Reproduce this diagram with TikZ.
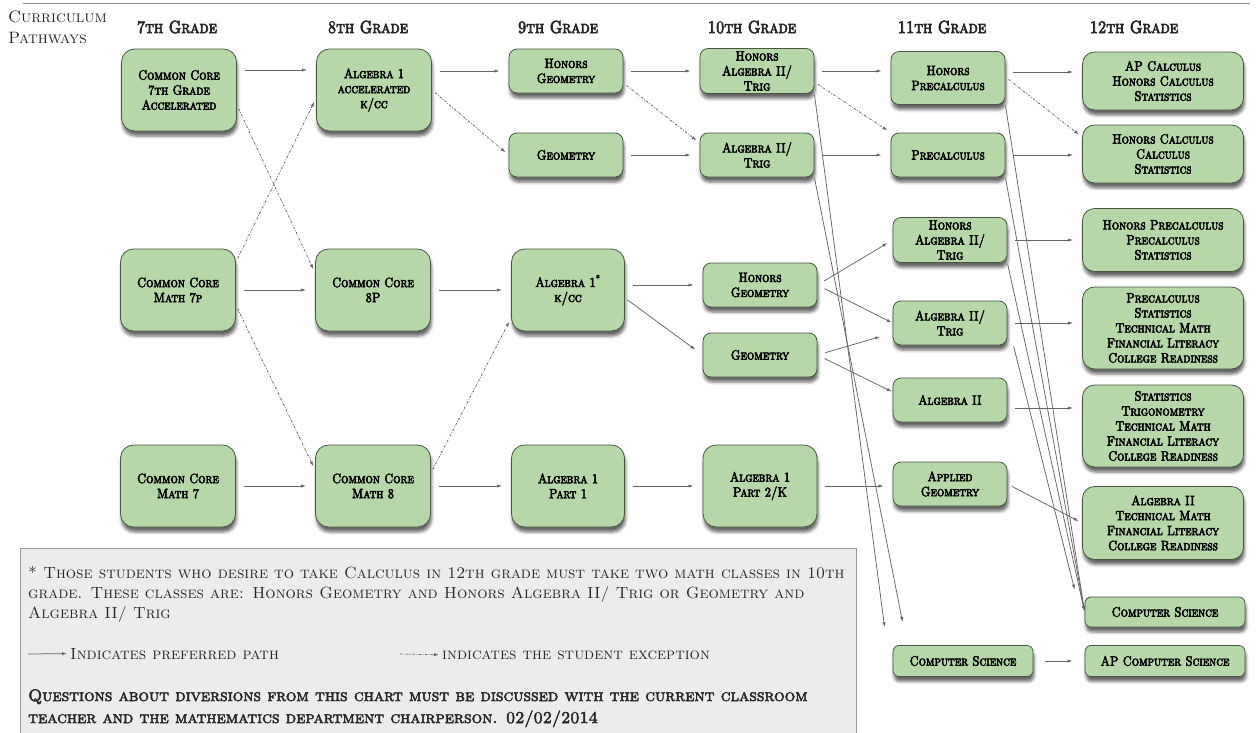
\documentclass[tikz,border=0pt]{standalone}
\usepackage{fontspec}
\usepackage{tikz}
\usepackage{xcolor}
\usetikzlibrary{arrows.meta}
\usetikzlibrary{shadows.blur}
\newfontfamily\capsplain{lmromancaps10-regular.otf}
\newfontfamily\capsbold{lmromancaps10-regular.otf}[FakeBold=4,FakeStretch=0.85]
\newfontfamily\capsheavy{lmromancaps10-regular.otf}[FakeBold=3]
\definecolor{boxgreen}{RGB}{182,215,168}
\definecolor{boxedge}{RGB}{72,86,66}
\definecolor{linegray}{RGB}{100,100,100}
\definecolor{notegray}{RGB}{236,236,236}
\tikzset{course/.style={draw=boxedge,fill=boxgreen,line width=0.8pt,rounded corners=8pt,
   align=center,inner sep=0pt,text=black,font=\capsbold\fontsize{13.5}{15}\selectfont,
   blur shadow={shadow xshift=1pt,shadow yshift=-5pt,shadow blur radius=3pt,shadow opacity=60}},
 tall/.style={course,minimum width=115pt,minimum height=82pt,rounded corners=13pt},
 short/.style={course,minimum width=114pt,minimum height=44pt},
 senior/.style={course,minimum width=161pt,rounded corners=12pt},
 cscourse/.style={course,minimum height=31pt,rounded corners=6pt},
 grade/.style={font=\capsbold\fontsize{17.5}{19}\selectfont,text=black!85,inner sep=0pt,anchor=base},
 pref/.style={draw=linegray,line width=0.75pt,-{Latex[length=5pt,width=3.2pt]},shorten <=8pt,shorten >=9pt},
 excep/.style={pref,dash pattern=on 2.5pt off 1.5pt on 0.7pt off 1.5pt,shorten <=4pt,shorten >=4pt},
 note/.style={font=\capsplain\fontsize{16.2}{19}\selectfont,anchor=base west,inner sep=0pt,text=black!85},
 }

\begin{document}
\begin{tikzpicture}[x=1pt,y=-1pt]
    \useasboundingbox (0,0) rectangle (1256,732);
    \draw[black!45,line width=0.8pt] (23,3) -- (1250,3);

    \node[note,font=\capsplain\fontsize{16.5}{18}\selectfont] (title1) at (8,22) {Curriculum};
    \node[note,font=\capsplain\fontsize{16.5}{18}\selectfont] (title2) at (8,43) {Pathways};
    \node[grade] (g7) at (177,33) {7th Grade};
    \node[grade] (g8) at (368,33) {8th Grade};
    \node[grade] (g9) at (558,33) {9th Grade};
    \node[grade] (g10) at (752,33) {10th Grade};
    \node[grade] (g11) at (942,33) {11th Grade};
    \node[grade] (g12) at (1134,33) {12th Grade};

    % 7th and 8th grade
    \node[tall] (c7acc) at (179,90) {Common Core\\7th Grade\\Accelerated};
    \node[tall] (c7p) at (178,290) {Common Core\\Math 7p};
    \node[tall] (c7) at (178,486) {Common Core\\Math 7};
    \node[tall] (a1acc) at (374,90) {Algebra 1\\accelerated\\k/cc};
    \node[tall] (cc8p) at (373,290) {Common Core\\8P};
    \node[tall] (cc8) at (373,486) {Common Core\\Math 8};

    % 9th and 10th grade
    \node[short] (hgeom9) at (566,71) {Honors\\Geometry};
    \node[short] (geom9) at (566,155) {Geometry};
    \node[tall,minimum width=113pt] (a1kcc) at (568,290) {Algebra 1\textsuperscript{*}\\k/cc};
    \node[tall,minimum width=113pt] (a1p1) at (568,486) {Algebra 1\\Part 1};
    \node[short,minimum height=45pt] (halg10) at (757,71) {Honors\\Algebra II/\\Trig};
    \node[short] (alg10) at (757,155) {Algebra II/\\Trig};
    \node[short] (hgeom10) at (760,285) {Honors\\Geometry};
    \node[short] (geom10) at (760,355) {Geometry};
    \node[tall,minimum width=114pt] (a1p2k) at (760,486) {Algebra 1\\Part 2/K};

    % 11th grade
    \node[short,minimum height=53pt] (hprec) at (948,78) {Honors\\Precalculus};
    \node[short] (prec) at (948,155) {Precalculus};
    \node[short,minimum height=45pt] (halg11) at (950,240) {Honors\\Algebra II/\\Trig};
    \node[short] (alg11) at (950,323) {Algebra II/\\Trig};
    \node[short] (alg2) at (950,400) {Algebra II};
    \node[short] (apgeom) at (950,484) {Applied\\Geometry};
    \node[cscourse,minimum width=140pt] (cs11) at (963,661) {Computer Science};

    % 12th grade
    \node[senior,minimum height=58pt] (t1) at (1163,81) {AP Calculus\\Honors Calculus\\Statistics};
    \node[senior,minimum height=58pt] (t2) at (1163,154) {Honors Calculus\\Calculus\\Statistics};
    \node[senior,minimum height=63pt] (t3) at (1163,240) {Honors Precalculus\\Precalculus\\Statistics};
    \node[senior,minimum height=82pt] (t4) at (1163,328) {Precalculus\\Statistics\\Technical Math\\Financial Literacy\\College Readiness};
    \node[senior,minimum height=82pt] (t5) at (1163,426) {Statistics\\Trigonometry\\Technical Math\\Financial Literacy\\College Readiness};
    \node[senior,minimum height=73pt] (t6) at (1163,523) {Algebra II\\Technical Math\\Financial Literacy\\College Readiness};
    \node[cscourse,minimum width=160pt,minimum height=30pt] (cs12) at (1165,612) {Computer Science};
    \node[cscourse,minimum width=160pt] (apcs) at (1165,661) {AP Computer Science};

    % preferred paths
    \draw[pref] ([yshift=20pt]c7acc.east) -- ([yshift=20pt]a1acc.west);
    \draw[pref] (a1acc.east |- hgeom9.west) -- (hgeom9.west);
    \draw[pref] (hgeom9) -- (halg10);
    \draw[pref] (geom9) -- (alg10);
    \draw[pref] (halg10.east) -- (halg10.east -| hprec.west);
    \draw[pref] (alg10) -- (prec);
    \draw[pref] ([yshift=6pt]hprec.east) -- ([yshift=6pt]hprec.east -| t1.west);
    \draw[pref] (prec.east) -- (prec.east -| t2.west);
    \draw[pref] (halg11.east) -- (halg11.east -| t3.west);
    \draw[pref] (alg11.east) -- (alg11.east -| t4.west);
    \draw[pref] ([yshift=-8pt]alg2.east) -- ([yshift=-8pt]alg2.east -| t5.west);
    \draw[pref,shorten <=5pt,shorten >=4pt] (apgeom.east) -- (t6.west);
    \draw[pref] (c7p) -- (cc8p);
    \draw[pref] (cc8p) -- (a1kcc);
    \draw[pref] (a1kcc.east |- hgeom10.west) -- (hgeom10.west);
    \draw[pref,shorten <=3pt] ([yshift=-8pt]a1kcc.east) -- (geom10.west);
    \draw[pref,shorten >=6pt] (hgeom10.east) -- (halg11.west);
    \draw[pref,shorten >=1pt] (hgeom10.east) -- (alg11.west);
    \draw[pref,shorten >=13pt] (geom10.east) -- ([yshift=-10pt]alg11.west);
    \draw[pref,shorten >=1pt] (geom10.east) -- ([yshift=8pt]alg2.west);
    \draw[pref] (c7) -- (cc8);
    \draw[pref] (cc8) -- (a1p1);
    \draw[pref] (a1p1) -- (a1p2k);
    \draw[pref] (a1p2k.east) -- (a1p2k.east -| apgeom.west);
    \draw[pref,shorten <=12pt,shorten >=12pt] (cs11) -- (apcs);

    % long runs to computer science
    \draw[pref,shorten <=1pt,shorten >=0pt] (halg10.south east) -- ([xshift=-8pt,yshift=18pt]cs11.north west);
    \draw[pref,shorten <=1pt,shorten >=0pt] (alg10.south east) -- ([xshift=10pt,yshift=23pt]cs11.north west);
    \draw[pref,shorten <=1pt,shorten >=1pt] (hprec.south east) -- (cs12.west);
    \draw[pref,shorten <=1pt,shorten >=1pt] (prec.south east) -- (cs12.west);
    \draw[pref,shorten <=1pt,shorten >=1pt] (halg11.south east) -- (cs12.west);
    \draw[pref,shorten <=1pt,shorten >=0pt] ([xshift=6pt]alg11.south east) -- ([xshift=-10pt,yshift=7pt]cs12.north west);

    % exceptions
    \draw[excep] ([yshift=-15pt]c7acc.east) -- ([yshift=17pt]cc8p.west);
    \draw[excep] ([yshift=28pt]c7p.east) -- ([yshift=-8pt]a1acc.west);
    \draw[excep] ([yshift=-15pt]c7p.east) -- ([yshift=16pt]cc8.west);
    \draw[excep] ([yshift=13pt]cc8.east) -- ([yshift=-28pt]a1kcc.west);
    \draw[excep] (a1acc.east) -- (geom9.west);
    \draw[excep] ([yshift=-12pt]hgeom9.east) -- ([yshift=12pt]alg10.west);
    \draw[excep] ([yshift=-11pt]halg10.east) -- (prec.north west);
    \draw[excep] ([yshift=1pt]hprec.east) -- ([yshift=17pt]t2.west);

    % legend
    \draw[fill=notegray,draw=black!40,line width=0.8pt] (20,548) rectangle (856,740);
    \node[note] (leg1) at (28,578) {* Those students who desire to take Calculus in 12th grade must take two math classes in 10th};
    \node[note] (leg2) at (28,598) {grade.\enspace These classes are: Honors Geometry and Honors Algebra II/ Trig or Geometry and};
    \node[note] (leg3) at (28,618) {Algebra II/ Trig};
    \coordinate (keyA) at (28,654);
    \node[note] (lpref) at (70,659) {Indicates preferred path};
    \draw[pref,shorten <=0pt,shorten >=3pt] (keyA) -- (lpref.west);
    \coordinate (keyB) at (400,654);
    \node[note] (lexc) at (442,659) {indicates the student exception};
    \draw[excep,shorten <=0pt,shorten >=3pt] (keyB) -- (lexc.west);
    \node[note,font=\capsheavy\fontsize{16.6}{19}\selectfont] (leg5) at (28,701) {Questions about diversions from this chart must be discussed with the current classroom};
    \node[note,font=\capsheavy\fontsize{16.6}{19}\selectfont] (leg6) at (28,723) {teacher and the mathematics department chairperson. 02/02/2014};
\end{tikzpicture}
\end{document}
